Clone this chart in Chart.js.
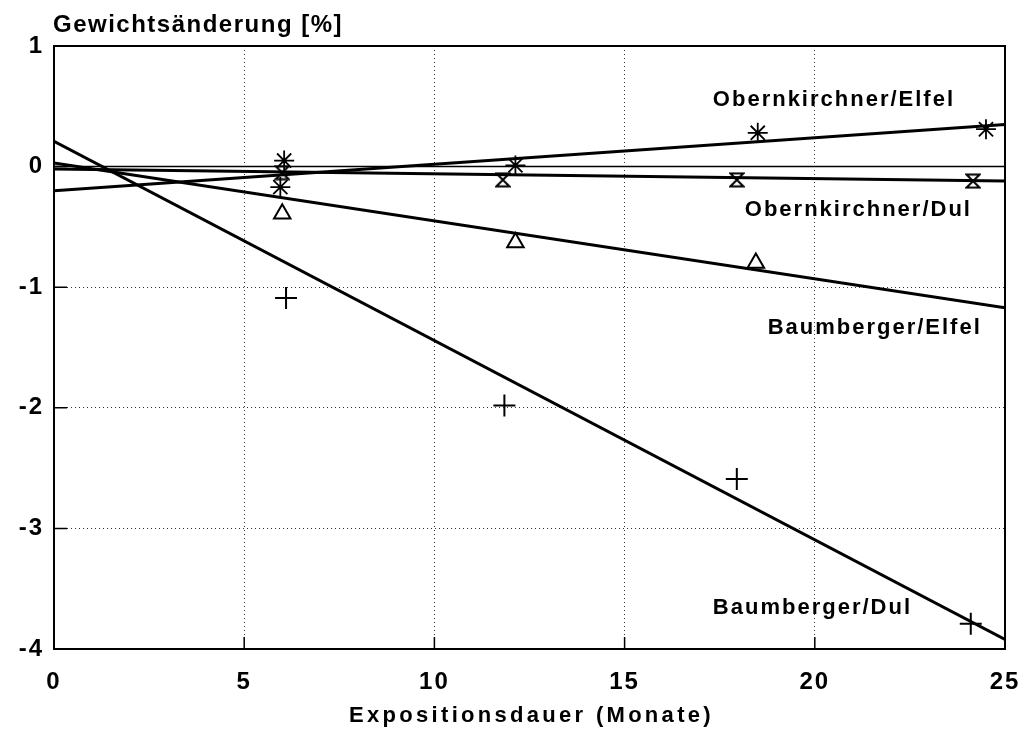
<!DOCTYPE html>
<html><head><meta charset="utf-8">
<script src="https://cdn.jsdelivr.net/npm/chart.js@4/dist/chart.umd.min.js"></script>
<style>html,body{margin:0;padding:0;background:#fff;}#wrap{width:1030px;height:733px;}</style>
</head><body><div id="wrap"><canvas id="c" width="1030" height="733"></canvas></div>
<script>
// ---- data ----
const xTicks = [0, 5, 10, 15, 20, 25];
const yTicks = [1, 0, -1, -2, -3, -4];

const obElfelX = [6.05, 5.95, 12.13, 18.5, 24.5];
const obElfelY = [0.05, -0.17, 0.01, 0.28, 0.31];
const obDulX = [6.0, 11.8, 17.95, 24.16];
const obDulY = [-0.05, -0.11, -0.11, -0.12];
const bauElfelX = [6.0, 12.13, 18.45];
const bauElfelY = [-0.39, -0.63, -0.80];
const bauDulX = [6.1, 11.84, 17.95, 24.1];
const bauDulY = [-1.09, -1.98, -2.59, -3.79];

const fitX = [0, 25];
const obElfelFit = [-0.20, 0.35];
const obDulFit = [-0.02, -0.12];
const bauElfelFit = [0.03, -1.17];
const bauDulFit = [0.21, -3.92];
const zeroLine = [0, 0];

const yTitle = 'Gewichtsänderung [%]';
const xTitle = 'Expositionsdauer (Monate)';
const seriesLabels = ['Obernkirchner/Elfel', 'Obernkirchner/Dul', 'Baumberger/Elfel', 'Baumberger/Dul'];
const labelAnchorX = [17.32, 18.16, 18.76, 17.32];
const labelAnchorY = [0.50, -0.41, -1.39, -3.71];

// ---- helpers ----
const pts = (xs, ys) => xs.map((x, i) => ({x, y: ys[i]}));
function hourglass() {
  const c = document.createElement('canvas');
  c.width = 16; c.height = 16;
  const g = c.getContext('2d');
  g.strokeStyle = '#000'; g.lineWidth = 2; g.lineJoin = 'miter';
  g.beginPath();
  g.moveTo(1.5, 1.5); g.lineTo(14.5, 1.5); g.lineTo(1.5, 14.5); g.lineTo(14.5, 14.5); g.closePath();
  g.stroke();
  return c;
}
const FONT = '"Liberation Sans", Arial, Helvetica, sans-serif';
Chart.defaults.font.family = FONT;
Chart.defaults.color = '#000';

const deco = {
  id: 'deco',
  beforeDraw(chart) { chart.ctx.letterSpacing = '2px'; },
  beforeDatasetsDraw(chart) { chart.ctx.letterSpacing = '0px'; },
  afterDraw(chart) {
    const {ctx, chartArea: a, scales: {x, y}} = chart;
    ctx.save();
    ctx.letterSpacing = '0px';
    ctx.strokeStyle = '#000';
    ctx.lineWidth = 2;
    ctx.strokeRect(a.left, a.top, a.right - a.left, a.bottom - a.top);
    ctx.lineWidth = 1.5;
    ctx.beginPath();
    yTicks.forEach(v => { const py = y.getPixelForValue(v); ctx.moveTo(a.left, py); ctx.lineTo(a.left + 13, py); });
    xTicks.forEach(v => { const px = x.getPixelForValue(v); ctx.moveTo(px, a.bottom); ctx.lineTo(px, a.bottom - 12); });
    ctx.stroke();

    ctx.fillStyle = '#000';
    ctx.textBaseline = 'alphabetic';
    ctx.textAlign = 'left';
    ctx.font = 'bold 24px ' + FONT;
    ctx.letterSpacing = '1.5px';
    ctx.fillText(yTitle, 53, 32);

    ctx.textAlign = 'center';
    ctx.font = 'bold 22px ' + FONT;
    ctx.letterSpacing = '3.3px';
    ctx.fillText(xTitle, (a.left + a.right) / 2 + 2, 722);

    ctx.textAlign = 'left';
    ctx.font = 'bold 22px ' + FONT;
    ctx.letterSpacing = '2px';
    seriesLabels.forEach((t, i) => {
      ctx.fillText(t, x.getPixelForValue(labelAnchorX[i]), y.getPixelForValue(labelAnchorY[i]));
    });
    ctx.restore();
    ctx.letterSpacing = '0px';
  }
};

const markerBase = {showLine: false, borderColor: '#000', backgroundColor: 'rgba(0,0,0,0)', pointBorderWidth: 1.8};
const lineBase = {showLine: true, pointRadius: 0, borderColor: '#000', borderWidth: 3, fill: false};

new Chart(document.getElementById('c'), {
  type: 'scatter',
  data: {
    datasets: [
      {...markerBase, label: 'Obernkirchner/Elfel', data: pts(obElfelX, obElfelY), pointStyle: 'star', pointRadius: 10},
      {...markerBase, label: 'Obernkirchner/Dul', data: pts(obDulX, obDulY), pointStyle: hourglass(), pointRadius: 8},
      {...markerBase, label: 'Baumberger/Elfel', data: pts(bauElfelX, bauElfelY), pointStyle: 'triangle', pointRadius: 9.5, pointBorderWidth: 2},
      {...markerBase, label: 'Baumberger/Dul', data: pts(bauDulX, bauDulY), pointStyle: 'cross', pointRadius: 11, pointBorderWidth: 2},
      {...lineBase, label: 'fit1', data: pts(fitX, obElfelFit)},
      {...lineBase, label: 'fit2', data: pts(fitX, obDulFit)},
      {...lineBase, label: 'fit3', data: pts(fitX, bauElfelFit)},
      {...lineBase, label: 'fit4', data: pts(fitX, bauDulFit)},
      {...lineBase, label: 'zero', data: pts(fitX, zeroLine), borderWidth: 1.5}
    ]
  },
  options: {
    responsive: false,
    animation: false,
    layout: {autoPadding: false, padding: {top: 46, right: 25, left: 0, bottom: 0}},
    plugins: {legend: {display: false}, tooltip: {enabled: false}, title: {display: false}},
    scales: {
      x: {
        type: 'linear', min: 0, max: 25,
        afterBuildTicks: s => { s.ticks = xTicks.map(v => ({value: v})); },
        afterFit: s => { s.height = 84; s.paddingLeft = 0; s.paddingRight = 0; },
        grid: {color: '#333', lineWidth: 1, drawTicks: false},
        border: {display: true, color: '#000', width: 2, dash: [1, 3]},
        ticks: {padding: 19, font: {size: 24, weight: 'bold'}, color: '#000', maxRotation: 0}
      },
      y: {
        type: 'linear', min: -4, max: 1,
        afterBuildTicks: s => { s.ticks = yTicks.map(v => ({value: v})); },
        afterFit: s => { s.width = 54; s.paddingTop = 0; s.paddingBottom = 0; },
        grid: {color: '#333', lineWidth: 1, drawTicks: false},
        border: {display: true, color: '#000', width: 2, dash: [1, 3]},
        ticks: {padding: 10, font: {size: 24, weight: 'bold'}, color: '#000'}
      }
    }
  },
  plugins: [deco]
});
</script>
</body></html>
